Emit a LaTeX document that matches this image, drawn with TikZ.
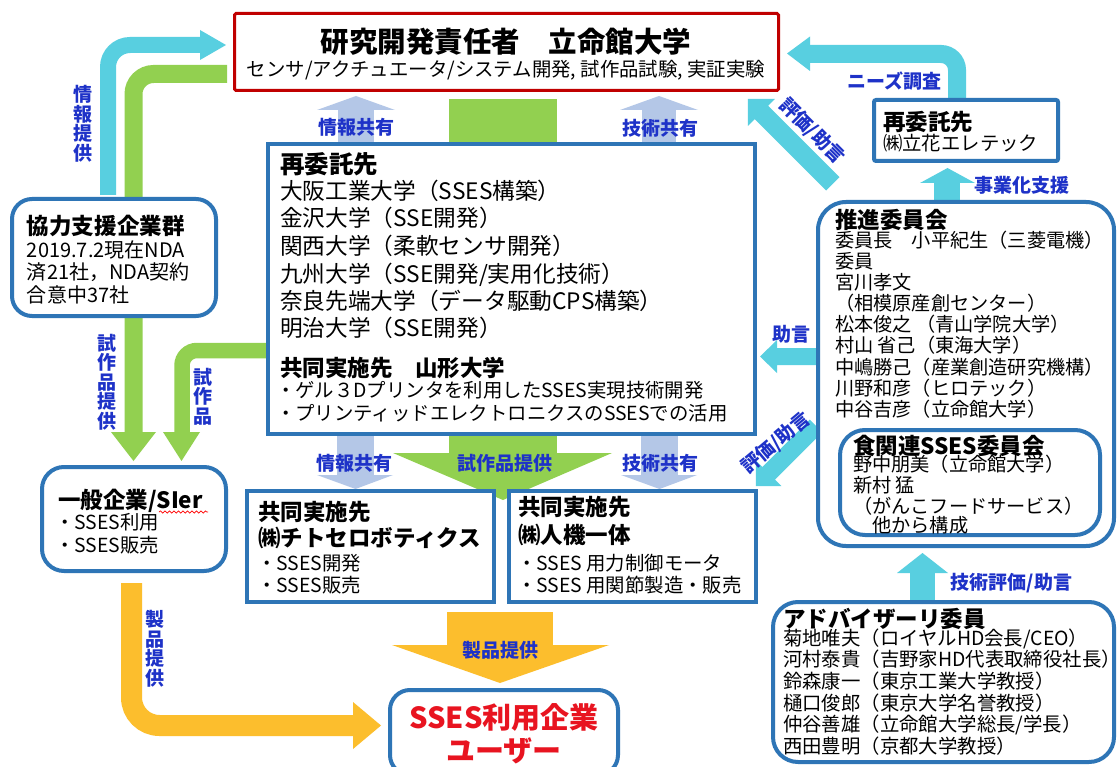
\documentclass[tikz,border=0pt]{standalone}
\usepackage{fontspec}
\setmainfont{Noto Sans CJK JP}
\usetikzlibrary{decorations.pathmorphing}
\definecolor{cy}{RGB}{88,207,224}
\definecolor{gr}{RGB}{146,208,80}
\definecolor{ye}{RGB}{252,190,45}
\definecolor{lbl}{RGB}{180,199,231}
\definecolor{bb}{RGB}{46,117,182}
\definecolor{rb}{RGB}{192,0,0}
\definecolor{rt}{RGB}{232,20,32}
\definecolor{lbt}{RGB}{30,50,200}
\tikzset{
  box/.style={draw=bb, line width=3.5pt, fill=white, inner sep=0pt, outer sep=0pt, anchor=north west},
  tx/.style={anchor=base west, inner sep=0pt, outer sep=0pt},
  lab/.style={text=lbt, font=\fontsize{19}{19.5}\selectfont\bfseries, inner sep=0pt, align=center},
  h28/.style={font=\fontsize{28.5}{30}\selectfont\bfseries},
  h24/.style={font=\fontsize{24.5}{26}\selectfont\bfseries},
  h22/.style={font=\fontsize{22.5}{24}\selectfont\bfseries},
  t22/.style={font=\fontsize{22.7}{24}\selectfont},
  t20/.style={font=\fontsize{20}{22}\selectfont},
  t19/.style={font=\fontsize{19.4}{21}\selectfont},
  t18/.style={font=\fontsize{19.2}{20}\selectfont},
}
\newcount\tlnum
\newcommand\tline[4][]{\global\advance\tlnum by 1\relax\node[tx,#1] (tl\the\tlnum) at (#2,#3) {#4};}
% fat arrow: colour, tail x, tail y, canvas angle, length, shaft width, head width, head length
\newcommand\fatarr[8]{\fill[#1,shift={(#2,#3)},rotate=#4] (0,-#6/2) -- (#5-#8,-#6/2) -- (#5-#8,-#7/2) -- (#5,0) -- (#5-#8,#7/2) -- (#5-#8,#6/2) -- (0,#6/2) -- cycle;}
\begin{document}
\begin{tikzpicture}[x=1pt,y=-1pt]
\useasboundingbox (0,0) rectangle (1118,767);
\fill[white] (0,0) rectangle (1118,767);

% ---------- connectors (behind boxes) ----------
\draw[cy, line width=16pt, rounded corners=22pt] (108,195) -- (108,45) -- (201,45);
\fill[cy] (200,30) -- (226,45) -- (200,60) -- cycle;
\draw[gr, line width=18pt, rounded corners=20pt] (227,74) -- (133.5,74) -- (133.5,433);
\fill[gr] (111,432) -- (156,432) -- (133.5,461) -- cycle;
\draw[gr, line width=15.5pt, rounded corners=15pt] (268,350.5) -- (182,350.5) -- (182,433);
\fill[gr] (163,432) -- (200,432) -- (181.5,461) -- cycle;
\fill[gr] (449,99) rectangle (557,454);
\fill[gr] (393,453) -- (612,453) -- (503,500) -- cycle;
\fill[lbl] (338,150) rectangle (374,109);
\fill[lbl] (317,110) -- (395,110) -- (356,96) -- cycle;
\fill[lbl] (642,150) rectangle (676,109);
\fill[lbl] (620,110) -- (698,110) -- (659,96) -- cycle;
\fill[lbl] (337,430) rectangle (374,476);
\fill[lbl] (317,475) -- (393,475) -- (355.5,489) -- cycle;
\fill[lbl] (641,430) rectangle (678,476);
\fill[lbl] (621,475) -- (697,475) -- (659.5,489) -- cycle;
\draw[ye, line width=21pt, rounded corners=28pt] (131.5,583) -- (131.5,725.5) -- (354,725.5);
\fill[ye] (353,702) -- (381,725.5) -- (353,749) -- cycle;
\fill[ye] (447,612) rectangle (553,646);
\fill[ye] (392,645) -- (609,645) -- (500,683) -- cycle;
\draw[cy, line width=18pt, rounded corners=16pt] (957,102) -- (957,54) -- (809,54);
\fill[cy] (810,36.5) -- (787,53.5) -- (810,71) -- cycle;
\fill[cy] (934,202) rectangle (960,182);
\fill[cy] (920,183) -- (975,183) -- (947.5,168) -- cycle;
\fatarr{cy}{832.8}{183.8}{135}{120}{19}{38}{19}
\fatarr{cy}{816}{426}{225}{85}{18}{36}{18}
\fatarr{cy}{818}{356.5}{180}{58}{17}{33}{17}
\fill[cy] (910,602) rectangle (935,572);
\fill[cy] (897,573) -- (948,573) -- (922.5,553) -- cycle;

% ---------- boxes ----------
\node[box, draw=rb, line width=3pt, rounded corners=1.5pt, minimum width=544pt, minimum height=77pt] (lead) at (234.5,13.5) {};
\node[box, minimum width=487pt, minimum height=290pt] (sub) at (268,144) {};
\node[box, line width=4pt, rounded corners=20pt, minimum width=204pt, minimum height=117pt] (coop) at (12,199) {};
\node[box, line width=4pt, rounded corners=22pt, minimum width=184pt, minimum height=104pt] (gen) at (42,467) {};
\node[box, minimum width=247pt, minimum height=111pt] (chitose) at (247,491) {};
\node[box, minimum width=247pt, minimum height=111pt] (jinki) at (509,491) {};
\node[box, line width=4pt, rounded corners=20pt, minimum width=228pt, minimum height=85pt] (user) at (390,690) {};
\node[box, line width=4pt, rounded corners=2pt, minimum width=184pt, minimum height=61pt] (tachi) at (874,100) {};
\node[box, line width=4pt, rounded corners=28pt, minimum width=296pt, minimum height=344pt] (prom) at (818,202) {};
\node[box, line width=4pt, rounded corners=25pt, minimum width=260pt, minimum height=105pt] (food) at (840,430) {};
\node[box, line width=4pt, rounded corners=25pt, minimum width=341pt, minimum height=160pt] (adv) at (773,602) {};

% ---------- texts ----------
\tline[anchor=base, h28]{506}{53}{研究開発責任者　立命館大学}
\tline[anchor=base, t19]{506}{76.5}{センサ/アクチュエータ/システム開発, 試作品試験, 実証実験}

\tline[h24]{280}{174}{再委託先}
\tline[t22]{280}{200}{大阪工業大学（SSES構築）}
\tline[t22]{280}{227}{金沢大学（SSE開発）}
\tline[t22]{280}{254.5}{関西大学（柔軟センサ開発）}
\tline[t22]{280}{282}{九州大学（SSE開発/実用化技術）}
\tline[t22]{280}{309}{奈良先端大学（データ駆動CPS構築）}
\tline[t22]{280}{336}{明治大学（SSE開発）}
\tline[h22]{280}{376.5}{共同実施先　山形大学}
\tline[t19]{276}{397}{・ゲル３Dプリンタを利用したSSES実現技術開発}
\tline[t19]{276}{420}{・プリンティッドエレクトロニクスのSSESでの活用}

\tline[h22]{27}{235}{協力支援企業群}
\tline[t20]{27}{257.5}{2019.7.2現在NDA}
\tline[t20]{27}{279.5}{済21社，NDA契約}
\tline[t20]{27}{302}{合意中37社}

\tline[h22]{58}{508}{一般企業/SIer}
\draw[red, line width=0.7pt, decorate, decoration={snake, amplitude=1.1pt, segment length=4.5pt}] (159,512) -- (208,512);
\tline[t19]{55}{529}{・SSES利用}
\tline[t19]{55}{552}{・SSES販売}

\tline[h22]{258}{520}{共同実施先}
\tline[h22]{258}{546}{㈱チトセロボティクス}
\tline[t19]{257}{570}{・SSES開発}
\tline[t19]{257}{592}{・SSES販売}

\tline[h22]{518}{515}{共同実施先}
\tline[h22]{518}{543}{㈱人機一体}
\tline[t19]{517}{570}{・SSES 用力制御モータ}
\tline[t19]{517}{592}{・SSES 用関節製造・販売}

\tline[anchor=base, text=rt, font=\fontsize{29}{30}\selectfont\bfseries]{504}{728}{SSES利用企業}
\tline[anchor=base, text=rt, font=\fontsize{29}{30}\selectfont\bfseries]{504}{761}{ユーザー}

\tline[h22]{883}{131}{再委託先}
\tline[t19]{883}{150.6}{㈱立花エレテック}

\tline[h22]{835}{228.5}{推進委員会}
\tline[t18]{835}{247.4}{委員長　小平紀生（三菱電機）}
\tline[t18]{835}{268.5}{委員}
\tline[t18]{835}{289.6}{宮川孝文}
\tline[t18]{835}{310.7}{（相模原産創センター）}
\tline[t18]{835}{331.8}{松本俊之 （青山学院大学）}
\tline[t18]{835}{352.9}{村山 省己（東海大学）}
\tline[t18]{835}{374}{中嶋勝己（産業創造研究機構）}
\tline[t18]{835}{395.1}{川野和彦（ヒロテック）}
\tline[t18]{835}{416.2}{中谷吉彦（立命館大学）}

\tline[h22]{853}{454.6}{食関連SSES委員会}
\tline[t18]{853}{471.4}{野中朋美（立命館大学）}
\tline[t18]{853}{492.4}{新村 猛}
\tline[t18]{853}{513.4}{（がんこフードサービス）}
\tline[t18]{853}{532}{　他から構成}

\tline[h22]{783}{627.5}{アドバイザーリ委員}
\tline[t19]{783}{645}{菊地唯夫（ロイヤルHD会長/CEO）}
\tline[t19]{783}{666.6}{河村泰貴（吉野家HD代表取締役社長）}
\tline[t19]{783}{688.3}{鈴森康一（東京工業大学教授）}
\tline[t19]{783}{710}{樋口俊郎（東京大学名誉教授）}
\tline[t19]{783}{731.7}{仲谷善雄（立命館大学総長/学長）}
\tline[t19]{783}{753.5}{西田豊明（京都大学教授）}

% ---------- connector labels ----------
\node[lab] (l1) at (83,124) {情\\報\\提\\供};
\node[lab] (l2) at (107,382) {試\\作\\品\\提\\供};
\node[lab] (l3) at (203,396.5) {試\\作\\品};
\node[lab] (l4) at (155,649) {製\\品\\提\\供};
\node[lab] (l5) at (356,127.5) {情報共有};
\node[lab] (l6) at (660,128.5) {技術共有};
\node[lab] (l7) at (894.5,81.5) {ニーズ調査};
\node[lab] (l8) at (1021.5,185) {事業化支援};
\node[lab, rotate=-45] (l9) at (812,131) {評価/助言};
\node[lab] (l10) at (791,334.5) {助言};
\node[lab, rotate=40] (l11) at (776,443) {評価/助言};
\node[lab] (l12) at (1011.5,583.5) {技術評価/助言};
\node[lab] (l13) at (354.5,463.5) {情報共有};
\node[lab] (l14) at (505,463.5) {試作品提供};
\node[lab] (l15) at (660.5,463.5) {技術共有};
\node[lab] (l16) at (500,650) {製品提供};
\end{tikzpicture}
\end{document}
